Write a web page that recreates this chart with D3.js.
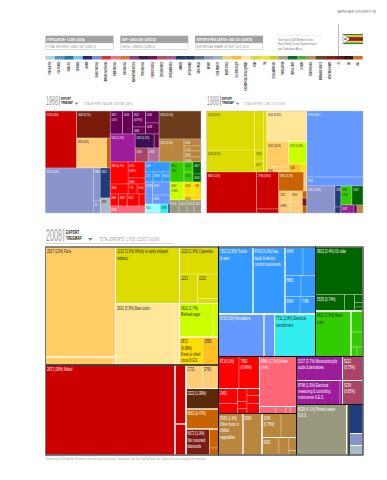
<!DOCTYPE html>
<html><head><meta charset="utf-8">
<script src="https://cdnjs.cloudflare.com/ajax/libs/d3/7.8.5/d3.min.js"></script>
<style>
html,body{margin:0;padding:0;background:#fff}
svg{display:block}
text{font-family:'Liberation Sans',Arial,sans-serif}
</style></head><body><svg id="c" width="387" height="480"></svg>
<script>
// ---------- legend ribbon ----------
const communityNames = ["FISH & SEAFOOD","MILK & CHEESE","CEREAL OILS","VEGETABLE","LEATHER","ORGANIC CHEMICALS","INORGANIC SALTS & ACIDS","OTHER CHEMICALS","AGROCHEMICALS","HEALTH & PHARMACEUTICS","PETROCHEMICALS","CONSTRUCTION MTLS","TEXTILES & FABRICS","HOUSEWARE & HOME","GARMENTS","OFFICE MACHINES","CARS & TRUCKS","AIRCRAFT","METAL PRODUCTS","BOILERS & TOOLS","ELECTRONICS EQUIP","MACHINERY & ELECTRICAL EQUIPMENT","STONE","TEA","MISCELLANEOUS AGRI","PRINTED MATTER","TROPICAL CROPS","FLOWERS","FOOD PROCESSING","BEVERAGES & TOBACCO","METAL ORES & SCRAPS","OIL","GAS","COAL"];
const communityColours = ["#a8d8e8","#5b92c8","#1a7aa0","#7cc4d8","#1f2a78","#7a8cc8","#d8323a","#e87888","#e07030","#8a3a90","#3f1a50","#6a1a5c","#a85068","#a05a9a","#1f3a6a","#1f3a6a","#5a6a88","#8f96c8","#98b0c0","#f8d070","#f0c038","#fce4a0","#d8d838","#f0e030","#c8d020","#a0a088","#106838","#58a838","#b88850","#6a4428","#7a2818","#6a1c18","#3a1410","#c87028"];

// ---------- product groups used in the treemaps ----------
const groupNames = ["flora","tobacco","fibre","sugar","citrus","spice","nickel","ore","coal","orange","diamond","machine","alloy","electric","oil","garment","chem","art","food","acid","rose","print","navy","peri","slate","plum","deep","mauve","wood","darkred","ltcyan"];
const groupColours = ["#ffcc66","#dcdc00","#ffe699","#ccff00","#ffdd00","#ffc020","#cc0000","#ffcc77","#5a2a08","#c86400","#7a1c14","#3399ff","#6699ff","#33eeee","#006400","#33cc00","#ff0000","#ff6677","#b8863c","#9c1c9c","#aa4466","#999980","#1f3c7c","#8a94cc","#a8bcc8","#660055","#3c0f50","#b06a9a","#6b3d1a","#7a1a0a","#99ffff"];

const l = (v, c, t) => ({v, c, t});
const S = (s, k) => ({s, k});

// Export values, in units of about US$26k for 2008.
const exports1968 = [
  [
    [l(1796,"nickel","2764 (14%)"), [l(905,"darkred","2665 (9.7%)"), [l(900,"ore","6810 (8%)"), l(105,"orange")]]],
    [l(2160,"peri","2815 (12%)"), [l(231,"peri","2816"), l(84,"peri","34")], [l(300,"navy","2813"), l(150,"slate","6890")]]
  ],
  [
    [
      [
        [l(288,"plum","3417|0.5%"), l(230,"plum","0514"), [l(208,"plum","6521|(0.97%)"), l(91,"plum","5008")], [l(162,"plum","0534"), l(149,"plum","5238")]],
        [l(700,"acid","5552 (1.5%)"), [[l(266,"deep","5415 (1.1%)"), l(70,"plum")], [l(182,"rose","5109"), l(154,"mauve","0318")]]]
      ],
      [l(1176,"wood","6354 (3.5%)"), [l(575,"food","5421 (0.9%)"), [l(119,"food","0564"), l(85,"food","1.2%"), l(102,"food","0560"), l(85,"food","0.95%")]]]
    ],
    [
      [
        [l(396,"chem","0814 (1.6%)"), [l(272,"chem","0212|0.97%"), l(102,"chem","0689")]],
        [l(180,"chem","0964"), l(90,"chem","773"), l(80,"chem","0154")],
        [l(102,"chem","0966"), l(102,"chem","0962"), l(144,"chem","6652"), l(72,"chem")],
        [l(245,"art","0968")]
      ],
      [
        l(250,"machine","058"),
        [l(80,"machine","125"), l(90,"machine","0893"), l(80,"machine","0643")],
        [l(165,"alloy","0798"), [l(228,"alloy","0370"), l(158,"alloy","0353")]],
        [l(135,"ltcyan","670"), l(72,"electric","6798"), l(18,"navy")]
      ],
      [
        [l(280,"garment","0322|0.6%"), [l(90,"garment","0601"), l(90,"garment","0.5%")], [l(96,"oil","0617"), l(64,"oil","0510")]],
        [l(252,"sugar","0667|0.76%"), [[l(130,"citrus","0581"), l(91,"citrus","094")], l(85,"citrus","6522")]],
        [l(117,"print","5230"), l(104,"print","3610"), l(91,"print","5651"), l(91,"print","5621")]
      ]
    ]
  ]
];

const exports1988 = [
  [
    [
      [l(1872,"tobacco","1212 (15%)"), l(1056,"tobacco","0216 (8.2%)")],
      [l(351,"tobacco"), l(99,"tobacco","1223"), l(99,"tobacco","0217")],
      l(183,"tobacco"),
      [l(1240,"fibre","2631 (6.3%)"), [[l(550,"flora","2631 (3.4%)"), l(110,"flora","0582")], [l(396,"sugar","0712 (1.6%)"), [l(96,"spice","0.48"), l(48,"citrus")]]]]
    ],
    [
      l(2050,"nickel","6820 (12%)"),
      [l(814,"nickel","2784 (3.6%)"), l(88,"nickel")],
      [
        [l(475,"orange","6831 (3.2%)"), l(57,"ore")],
        [[l(127,"ore","7321"), l(126,"ore","0.98%")], [l(132,"ore","7318"), l(132,"ore")], [l(32,"orange"), l(36,"darkred"), l(31.5,"orange")]]
      ]
    ]
  ],
  [
    l(3696,"alloy","6716 (20%)"),
    l(504,"alloy","8255"),
    [
      l(756,"peri","2815 (2.9%)"),
      [l(126,"navy","3211"), l(36,"navy")],
      [[l(209,"garment","8432|0.8%"), l(209,"oil","2513")], [l(104,"acid","5537"), l(24,"plum"), l(48,"food")]]
    ]
  ]
];

const exports2008 = [
  [
    S("Agriculture",
      [[l(7700,"flora","2927 (12%) Flora"), [l(540,"flora"), l(20,"flora")]],
       [l(3616,"tobacco","1212 (5.3%) Wholly or partly stripped|tobacco"), [l(3659,"fibre","2631 (5.5%) Raw cotton"), [l(207,"fibre"), l(70,"fibre")]]],
       [[[l(1053,"tobacco","1222 (1.9%) Cigarettes"), [l(531,"tobacco","1221"), [l(515,"tobacco","1223"), l(105,"tobacco")]]]],
        [l(1122,"sugar","0612 (1.7%)|Refined sugar"), [l(99,"sugar"), l(44,"sugar"), l(41,"sugar")]],
        [l(658,"citrus","0572|(0.88%)|Fresh or dried|citrus N.E.S"), l(434,"spice","0583")]]]
    ),
    S("Metals",
      [l(11655,"nickel","2872 (18%) Nickel"),
       [l(649,"nickel"), l(341,"nickel")],
       [[l(388,"ore","2731"), l(376,"ore","2760")],
        l(666,"coal","3222 (1.99%)"),
        l(650,"orange","6662 (0.47%)"),
        [l(611,"diamond","6672 (1.9%)|Not mounted|diamonds"), [l(171,"orange"), l(63,"orange")]]]]
    )
  ],
  [
    [
      S("Machinery",
        [[l(2312,"machine","7821 (3.5%) Trucks|& vans"), l(2144,"machine","8743 (3.2%) Gas,|liquid & electric|control instruments"),
          [[l(513,"machine","0045"), l(356,"machine")], [l(336,"machine","8881"), l(305,"machine")], [l(263,"machine","8954"), l(271,"machine","7788")]]],
         [l(1934,"alloy","6716 (2%) Ferroalloys"), l(446,"alloy"), l(1743,"electric","7711 (2.8%) Electrical|transformers")]]
      ),
      S("Crops",
        [[[l(2256,"oil","0813 (3.4%) Oil cake"), [l(479,"oil","5535 (0.74%)"), l(165,"oil"), [l(68,"oil"), l(38,"oil"), l(34,"oil")]]]],
         [l(1615,"garment","8422 (2.5%) Men's|suits"), [l(252,"garment"), l(180,"garment"), [l(57,"garment"), l(57,"garment")]]]]
      )
    ],
    [
      [
        S("Chemicals",
          [[[l(656,"chem","8710 (1%)"), l(656,"chem","7492|(0.96%)")],
            [[l(285,"chem","2401"), l(190,"chem")], [l(124,"chem"), l(66,"chem"), l(48,"chem")], [l(88,"chem"), l(100,"chem"), l(125,"chem")]]],
           [l(1850,"art","8960 (2.7%) Works|of art"), [l(112,"art"), l(70,"art"), l(35,"art"), l(42,"art")]]]
        ),
        S("Food",
          [l(1017,"food","0545 (1.6%)|Other fruits or|chilled|vegetables"), l(789,"food","0586"),
           [[l(456,"food","1546|(0.78%)"), l(372,"food")], [l(298,"food","5402"), l(175,"food"), [l(98,"food"), l(34,"food")]]]]
        )
      ],
      [
        S("Acids",
          [[l(1104,"acid","5157 (3.7%) Monocarboxylic|acids & derivatives"), [l(1044,"acid","8748 (1.9%) Electrical|measuring & controlling|instruments N.E.S."), l(60,"acid")]],
           [l(492,"rose","5222|(0.75%)"), l(492,"rose","5239|(0.65%)")]]
        ),
        [
          S("Print", [[l(2525,"print","8928 (4.1%) Printed matter|N.E.S."), l(126,"print")]]),
          S("Other", [l(406,"navy"), l(168,"peri"), l(133,"slate")])
        ]
      ]
    ]
  ]
];

// ---------- header texts ----------
const statTitles = ["POPULATION • 12.5M / (2009)","GDP • USD 4.1B / (US$332)","EXPORTS PER CAPITA • USD 133 / (US$78)"];
const statLines = ["TOTAL EXPORTS • US$1.71B / (US$2.3)","GDPpc • US$330 / (US$2.4)","EXPORTS AS SHARE OF GDP • 41% (43.0)"];
const noteLines = ["Since late 2008 Member states","Mary Ward During Targeted travel","ban Zimbabwe Africa"];
const flagStripes = ["#1a8a3a","#f8d820","#d81e28","#111111","#d81e28","#f8d820","#1a8a3a"];
const treemapTitles = [
  {year:"1968", total:"TOTAL EXPORTS: $420.9M / $109.3M (0.38%)"},
  {year:"1988", total:"TOTAL EXPORTS: 1.6B / 2.75T (0.06%)"},
  {year:"2008", total:"TOTAL EXPORTS: 1.70 B / 15.56 T (0.03%)"}
];
const footnote = "Numbers refer to 2008 trade data. Parentheses indicate percentage of total exports. Treemap boxes show Total Trade/Total World Trade. Colors of each sector correspond to the communities.";

// ---------- drawing ----------
const svg = d3.select("#c");
const colour = d3.scaleOrdinal(groupNames, groupColours);

// condensed text: the reference face is a narrow grotesque, drawn here by squeezing along x
function label(parent, x, y, size, sx, str){
  return parent.append("text").attr("transform",`translate(${x},${y}) scale(${sx},1)`).attr("font-size",size).text(str);
}

label(svg,376,13,3.2,.64,"MAPPING PATHS TO PROSPERITY | 383").attr("text-anchor","end").attr("fill","#666");

const statX = d3.scalePoint().domain(d3.range(3)).range([45.5,195]);
statTitles.forEach((t,i)=>{
  const x = statX(i);
  svg.append("rect").attr("x",x).attr("y",35.7).attr("width",68).attr("height",7.3).attr("fill","#a2a2a2");
  svg.append("rect").attr("x",x+.25).attr("y",43).attr("width",67.5).attr("height",6.5).attr("fill","#fff").attr("stroke","#bbb").attr("stroke-width",.5);
  label(svg,x+1.5,41,4,.68,t).attr("font-weight","bold").attr("fill","#fff");
  label(svg,x+1.5,48,3.8,.7,statLines[i]).attr("fill","#888");
});

svg.append("line").attr("x1",276).attr("x2",322).attr("y1",35.5).attr("y2",35.5).attr("stroke","#ccc").attr("stroke-width",.5).attr("stroke-dasharray","1 1");
noteLines.forEach((t,i)=>label(svg,278,40.5+i*4.6,3.6,.72,t).attr("fill","#777"));
svg.append("line").attr("x1",338.5).attr("x2",338.5).attr("y1",24).attr("y2",56).attr("stroke","#aaa").attr("stroke-width",.8);

// flag
const flag = svg.append("g").attr("transform","translate(343,34)");
const fy = d3.scaleBand().domain(d3.range(flagStripes.length)).range([0,10]);
flag.selectAll("rect").data(flagStripes).join("rect").attr("x",0).attr("width",20).attr("y",(d,i)=>fy(i)).attr("height",fy.bandwidth()+.1).attr("fill",d=>d);
flag.append("path").attr("d","M0,0L7,5L0,10Z").attr("fill","#fff").attr("stroke","#111").attr("stroke-width",.3);
flag.append("circle").attr("cx",2.4).attr("cy",5).attr("r",1.1).attr("fill","#d81e28");

// ribbon
const band = d3.scaleBand().domain(communityNames.map((d,i)=>i)).range([45.5,362.5]);
svg.append("g").selectAll("rect").data(communityColours).join("rect")
  .attr("x",(d,i)=>band(i)).attr("y",56).attr("width",band.bandwidth()+.2).attr("height",3.5).attr("fill",d=>d);
svg.append("g").selectAll("text").data(communityNames).join("text")
  .attr("transform",(d,i)=>`translate(${band(i)+band.bandwidth()/2+1},62) rotate(-90) scale(.45,1)`)
  .attr("text-anchor","end").attr("font-size",3.2).attr("font-weight","bold").attr("fill","#222").text(d=>d);

// treemap titles
function title(t, x, y, s, tx, endX){
  const g = svg.append("g").attr("transform",`translate(${x},${y})`);
  label(g,0,0,12.5*s,.43,t.year).attr("fill","#9a9a9a");
  g.append("line").attr("x1",13.4*s).attr("x2",13.4*s).attr("y1",-9.5*s).attr("y2",1).attr("stroke","#555").attr("stroke-width",.5);
  label(g,15*s,-5*s,3.7*s,.66,"EXPORT").attr("font-weight","bold").attr("fill","#111");
  label(g,15*s,-.6*s,3.7*s,.66,"TREEMAP").attr("font-weight","bold").attr("fill","#111");
  g.append("path").attr("d",`M${tx-8.5*s},${-2.2*s}h${4*s}l${-2*s},${2*s}Z`).attr("fill","#888");
  label(g,tx,0,3.6*s,.65,t.total).attr("fill","#999");
  if(endX) g.append("line").attr("x1",0).attr("x2",endX).attr("y1",2.5).attr("y2",2.5).attr("stroke","#bbb").attr("stroke-width",.6);
}
title(treemapTitles[0],46,105,1,37,0);
title(treemapTitles[1],207,105,1,37,0);
title(treemapTitles[2],46,241,1.33,53,128);

function treemap(data, x, y, w, h, fs, sx, lh, heavy){
  const root = d3.hierarchy(data, d=>Array.isArray(d)?d:d.k).sum(d=>d.v||0);
  d3.treemap().tile(d3.treemapSliceDice).size([w,h]).round(false)(root);
  const g = svg.append("g").attr("transform",`translate(${x},${y})`);
  const box = s=>s.attr("x",d=>d.x0).attr("y",d=>d.y0).attr("width",d=>d.x1-d.x0).attr("height",d=>d.y1-d.y0).attr("fill","none");
  box(g.append("g").selectAll("rect").data(root.leaves()).join("rect"))
    .attr("fill",d=>colour(d.data.c)).attr("stroke","rgba(255,255,255,.5)").attr("stroke-width",.5);
  if(heavy){
    const inner = root.descendants().filter(d=>{
      const a = d.ancestors().findIndex(n=>n.data.s);
      return a===1 || a===2;
    });
    box(g.append("g").selectAll("rect").data(inner).join("rect")).attr("stroke","rgba(255,255,255,.8)").attr("stroke-width",.9);
    box(g.append("g").selectAll("rect").data(root.descendants().filter(d=>d.data.s)).join("rect")).attr("stroke","#111").attr("stroke-width",1);
    g.append("path").attr("d",`M0,0V${h}H${w}V0`).attr("fill","none").attr("stroke","#777").attr("stroke-width",1);
  } else {
    g.append("rect").attr("width",w).attr("height",h).attr("fill","none").attr("stroke","rgba(140,150,170,.6)").attr("stroke-width",.5);
  }
  const labels = g.append("g").selectAll("text").data(root.leaves().filter(d=>d.data.t)).join("text")
    .attr("transform",d=>`translate(${d.x0+fs*.32},${d.y0}) scale(${sx},1)`)
    .attr("font-size",fs)
    .attr("fill",d=>d3.lab(colour(d.data.c)).l>66?"#222":"#fff");
  labels.selectAll("tspan").data(d=>d.data.t.split("|")).join("tspan")
    .attr("x",0).attr("y",(d,i)=>fs*1.25+i*lh).text(d=>d);
}
treemap(exports1968,45.3,111,155.7,102,3.9,.6,4.8,false);
treemap(exports1988,206.7,111,156.3,102,3.9,.6,4.8,false);
treemap(exports2008,45.5,247,317.5,208,5,.62,6.3,true);

label(svg,46,460,2.9,.66,footnote).attr("fill","#999");
</script></body></html>
